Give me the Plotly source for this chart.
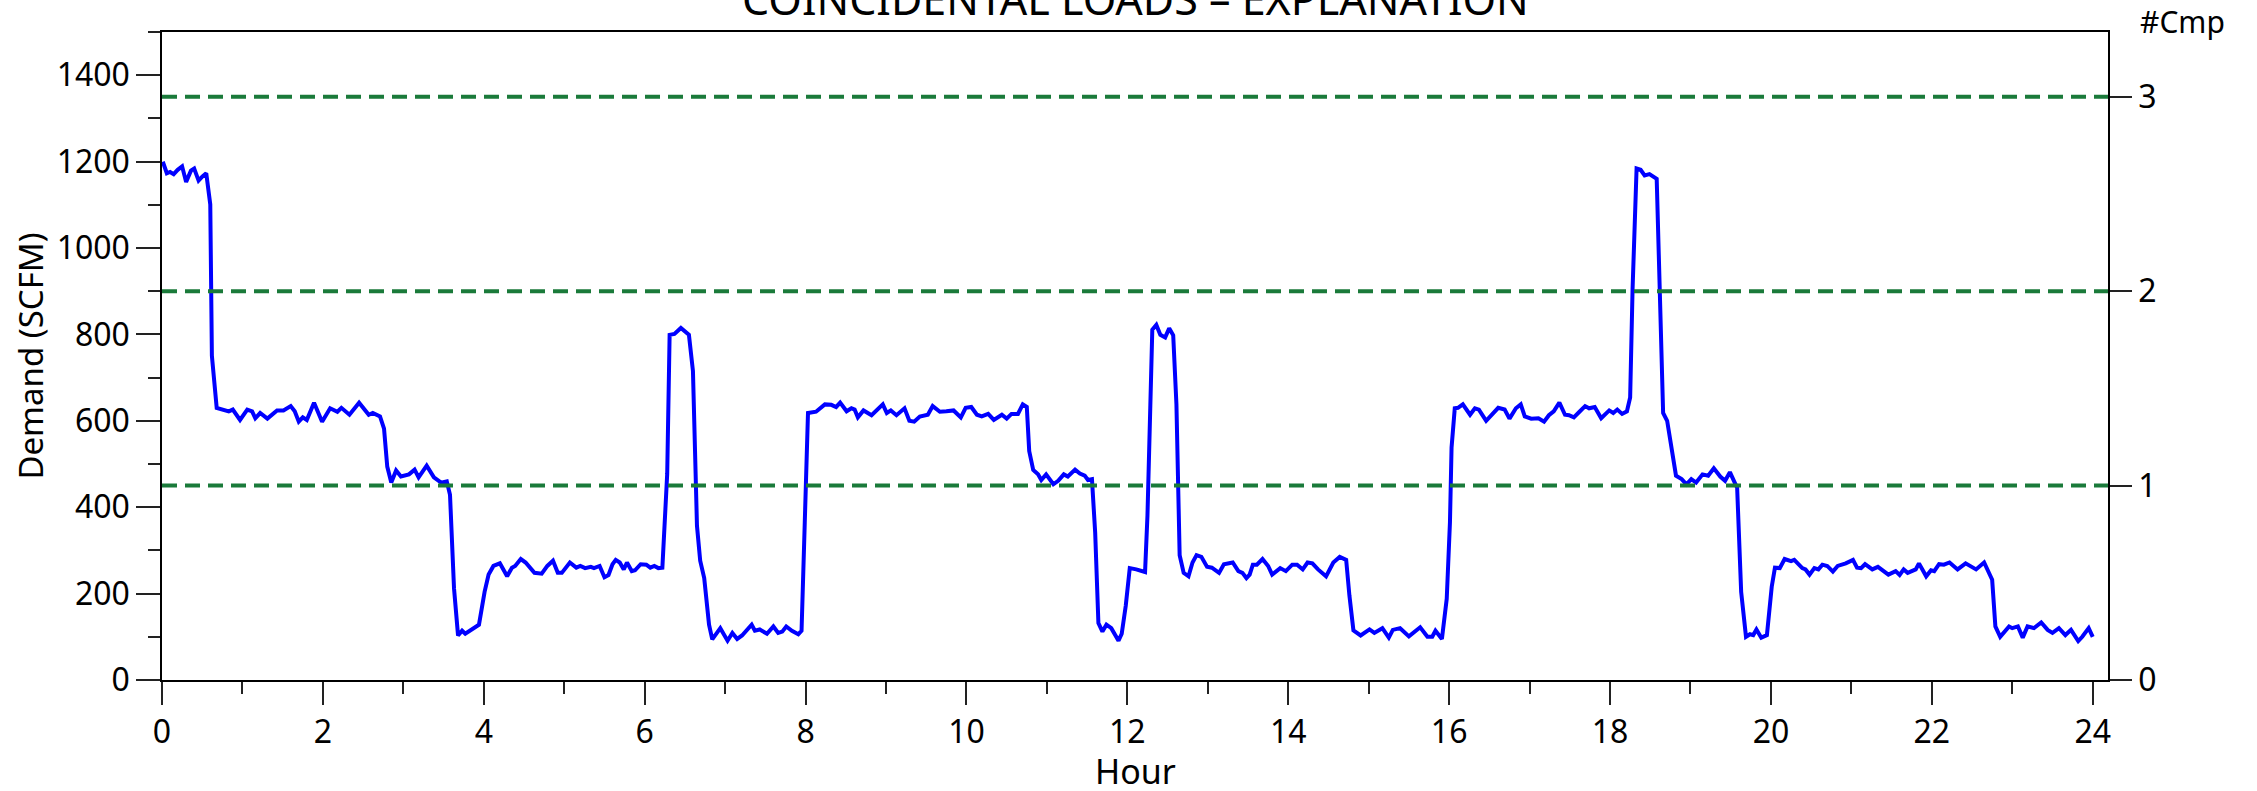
import plotly.graph_objects as go

# Compressed-air demand over a day (hour of day, SCFM)
hours = [
    0.01, 0.06, 0.10, 0.145, 0.195, 0.25, 0.30, 0.36, 0.40, 0.455, 0.50, 0.55, 0.60, 0.62,
    0.68, 0.75, 0.83, 0.88, 0.97, 1.06, 1.12, 1.16, 1.22, 1.31, 1.43, 1.51, 1.60, 1.65,
    1.70, 1.75, 1.80, 1.89, 1.99, 2.09, 2.18, 2.23, 2.33, 2.45, 2.57, 2.62, 2.71, 2.76,
    2.80, 2.85, 2.91, 2.97, 3.07, 3.14, 3.19, 3.29, 3.38, 3.47, 3.54, 3.58, 3.63, 3.68,
    3.73, 3.77, 3.85, 3.94,
    4.01, 4.06, 4.12, 4.20, 4.29, 4.35, 4.39, 4.46, 4.52, 4.63, 4.72, 4.79, 4.86, 4.92,
    4.97, 5.07, 5.15, 5.20, 5.26, 5.33, 5.37, 5.44, 5.50, 5.55, 5.60, 5.64, 5.69, 5.74,
    5.78, 5.84, 5.88, 5.95, 6.02, 6.07, 6.12, 6.17, 6.22, 6.28, 6.31, 6.37, 6.45, 6.50,
    6.55, 6.60, 6.65, 6.69, 6.74, 6.80, 6.84, 6.94, 7.03, 7.09, 7.15, 7.21, 7.27, 7.33,
    7.37, 7.43, 7.52, 7.60, 7.66, 7.71, 7.76, 7.83, 7.91, 7.95, 7.99,
    8.03, 8.13, 8.19, 8.24, 8.32, 8.38, 8.43, 8.51, 8.57, 8.61, 8.65, 8.72, 8.82, 8.89,
    8.96, 9.01, 9.06, 9.13, 9.23, 9.29, 9.35, 9.42, 9.52, 9.58, 9.67, 9.75, 9.84, 9.93,
    9.99, 10.06, 10.13, 10.19, 10.27, 10.34, 10.44, 10.50, 10.56, 10.64, 10.70, 10.75,
    10.78, 10.83, 10.89, 10.93, 10.99, 11.08, 11.14, 11.21, 11.26, 11.35, 11.41, 11.47,
    11.51, 11.56, 11.60, 11.64, 11.69, 11.74, 11.80, 11.89, 11.93,
    11.98, 12.03, 12.11, 12.22, 12.25, 12.28, 12.31, 12.36, 12.41, 12.47, 12.52, 12.57,
    12.61, 12.65, 12.70, 12.76, 12.81, 12.86, 12.92, 12.99, 13.05, 13.14, 13.20, 13.31,
    13.38, 13.43, 13.48, 13.52, 13.56, 13.61, 13.68, 13.75, 13.80, 13.90, 13.97, 14.05,
    14.11, 14.18, 14.24, 14.30, 14.37, 14.47, 14.56, 14.64, 14.72, 14.76, 14.81, 14.90,
    15.01, 15.07, 15.17, 15.25, 15.30, 15.39, 15.50, 15.64, 15.73, 15.79, 15.83, 15.91,
    15.97, 16.01, 16.03, 16.07, 16.11, 16.17, 16.26, 16.32, 16.37, 16.46, 16.53, 16.61,
    16.69, 16.75, 16.83, 16.89, 16.94, 17.02, 17.11, 17.18, 17.24, 17.30, 17.37, 17.44,
    17.49, 17.55, 17.62, 17.69, 17.74, 17.81, 17.89, 17.99, 18.04, 18.09, 18.15, 18.21,
    18.25, 18.28, 18.33, 18.38, 18.43, 18.49, 18.58, 18.61, 18.66, 18.71, 18.76, 18.82,
    18.89, 18.95, 19.01, 19.07, 19.15, 19.22, 19.29, 19.37, 19.43, 19.49, 19.55, 19.58,
    19.63, 19.69, 19.74, 19.78, 19.82, 19.88, 19.95,
    20.01, 20.05, 20.11, 20.17, 20.25, 20.29, 20.39, 20.43, 20.48, 20.54, 20.59, 20.64,
    20.70, 20.77, 20.83, 20.93, 21.02, 21.07, 21.12, 21.17, 21.26, 21.33, 21.46, 21.55,
    21.60, 21.65, 21.70, 21.80, 21.84, 21.93, 21.99, 22.03, 22.09, 22.15, 22.22, 22.32,
    22.42, 22.55, 22.65, 22.75, 22.79, 22.85, 22.96, 23.00, 23.07, 23.13, 23.19, 23.27,
    23.36, 23.44, 23.50, 23.58, 23.66, 23.73, 23.82, 23.87, 23.95, 24.00,
]

demand_scfm = [
    1200, 1173, 1176, 1171, 1181, 1189, 1153, 1179, 1184, 1156, 1165, 1173, 1101, 751,
    630, 626, 622, 626, 602, 626, 622, 606, 618, 605, 624, 624, 634, 622,
    598, 608, 602, 642, 598, 629, 621, 630, 614, 642, 614, 618, 610, 582,
    494, 457, 485, 471, 476, 487, 469, 496, 469, 457, 460, 429, 212, 103,
    114, 107, 117, 128,
    204, 244, 264, 270, 240, 260, 264, 280, 272, 248, 246, 264, 276, 248,
    248, 272, 260, 264, 259, 262, 259, 264, 238, 243, 268, 278, 272, 256,
    272, 252, 254, 268, 267, 260, 264, 259, 260, 477, 799, 801, 815, 806,
    799, 715, 357, 276, 236, 128, 94, 120, 91, 109, 95, 103, 115, 128,
    114, 117, 107, 124, 109, 112, 124, 114, 106, 114, 365,
    618, 621, 630, 638, 637, 632, 642, 622, 629, 626, 608, 624, 613, 626,
    638, 618, 624, 613, 629, 600, 598, 610, 614, 634, 621, 622, 624, 608,
    630, 632, 614, 610, 616, 602, 614, 605, 616, 616, 638, 632,
    530, 486, 476, 463, 476, 453, 461, 476, 471, 487, 478, 473,
    463, 465, 341, 132, 112, 128, 120, 91, 107,
    172, 259, 256, 250, 381, 606, 811, 822, 799, 793, 814, 798,
    638, 289, 248, 240, 272, 289, 285, 262, 260, 248, 268, 272,
    252, 248, 236, 244, 267, 267, 280, 264, 244, 259, 252, 267,
    267, 256, 272, 270, 256, 240, 272, 285, 278, 196, 115, 103,
    117, 109, 120, 98, 116, 120, 101, 122, 100, 100, 114, 95,
    188, 365, 538, 629, 630, 638, 614, 629, 626, 600, 614, 630,
    626, 605, 629, 638, 610, 605, 606, 598, 613, 622, 642, 614,
    613, 608, 621, 634, 629, 632, 606, 624, 618, 626, 616, 622,
    654, 904, 1184, 1181, 1168, 1171, 1160, 984, 618, 600, 542, 473,
    465, 453, 465, 457, 476, 473, 490, 471, 461, 481, 457, 445,
    204, 100, 106, 104, 117, 98, 104,
    216, 260, 259, 280, 275, 278, 259, 256, 244, 259, 256, 267,
    264, 251, 264, 270, 278, 260, 259, 268, 256, 262, 244, 252,
    243, 256, 248, 256, 270, 240, 254, 252, 268, 267, 272, 256,
    270, 256, 272, 232, 124, 100, 124, 120, 124, 98, 124, 120,
    133, 116, 109, 120, 104, 116, 90, 100, 120, 100,
]

# Number of compressors running, and the capacity each one adds
compressor_counts = [1, 2, 3]
compressor_capacity_scfm = 450

x_range = [0, 24.19]
y_range = [0, 1500]

FONT = "Noto Sans"

fig = go.Figure()

fig.add_trace(go.Scatter(
    x=hours, y=demand_scfm, mode="lines",
    line=dict(color="#0000ff", width=4),
    showlegend=False, hoverinfo="x+y",
))

# Capacity steps of 1, 2 and 3 compressors on the right-hand axis
step_x, step_y = [], []
for n in compressor_counts:
    step_x += [x_range[0], x_range[1], None]
    step_y += [n, n, None]
fig.add_trace(go.Scatter(
    x=step_x, y=step_y, yaxis="y2", mode="lines",
    line=dict(color="#1a7a3a", width=4, dash="15px,8px"),
    showlegend=False, hoverinfo="skip",
))

axis_common = dict(
    showgrid=False, zeroline=False, showline=True, automargin=False,
    linecolor="#000000", linewidth=1.5,
    ticks="outside", tickcolor="#222222", tickwidth=1.5,
    tickfont=dict(family=FONT, size=32, color="#000000"),
)

fig.update_layout(
    width=2257, height=791,
    margin=dict(l=162, r=149, t=32, b=111),
    paper_bgcolor="white", plot_bgcolor="white",
    font=dict(family=FONT, color="#000000"),
    xaxis=dict(
        **axis_common,
        range=x_range, dtick=2, tick0=0, ticklen=23, mirror=True,
        minor=dict(dtick=1, ticklen=12, ticks="outside", tickcolor="#222222", tickwidth=1.5),
    ),
    yaxis=dict(
        **axis_common,
        range=y_range, dtick=200, tick0=0, ticklen=24,
        minor=dict(dtick=100, ticklen=12, ticks="outside", tickcolor="#222222", tickwidth=1.5),
        title=dict(text="Demand (SCFM)", font=dict(family=FONT, size=33), standoff=3),
    ),
    yaxis2=dict(
        **axis_common,
        overlaying="y", side="right",
        range=[y_range[0] / compressor_capacity_scfm, y_range[1] / compressor_capacity_scfm],
        tickvals=[0] + compressor_counts, ticklen=22,
    ),
    annotations=[
        dict(text="COINCIDENTAL LOADS \u2013 EXPLANATION", xref="paper", yref="paper",
             x=0.5, y=1, xanchor="center", yanchor="middle", yshift=34,
             showarrow=False, font=dict(family=FONT, size=43, color="#000000")),
        dict(text="Hour", xref="paper", yref="paper",
             x=0.5, y=0, xanchor="center", yanchor="middle", yshift=-91,
             showarrow=False, font=dict(family=FONT, size=34, color="#000000")),
        dict(text="#Cmp", xref="paper", yref="paper",
             x=1.0154, y=1, xanchor="left", yanchor="middle", yshift=11,
             showarrow=False, font=dict(family=FONT, size=30, color="#000000")),
    ],
)

fig.write_html("out.html")
